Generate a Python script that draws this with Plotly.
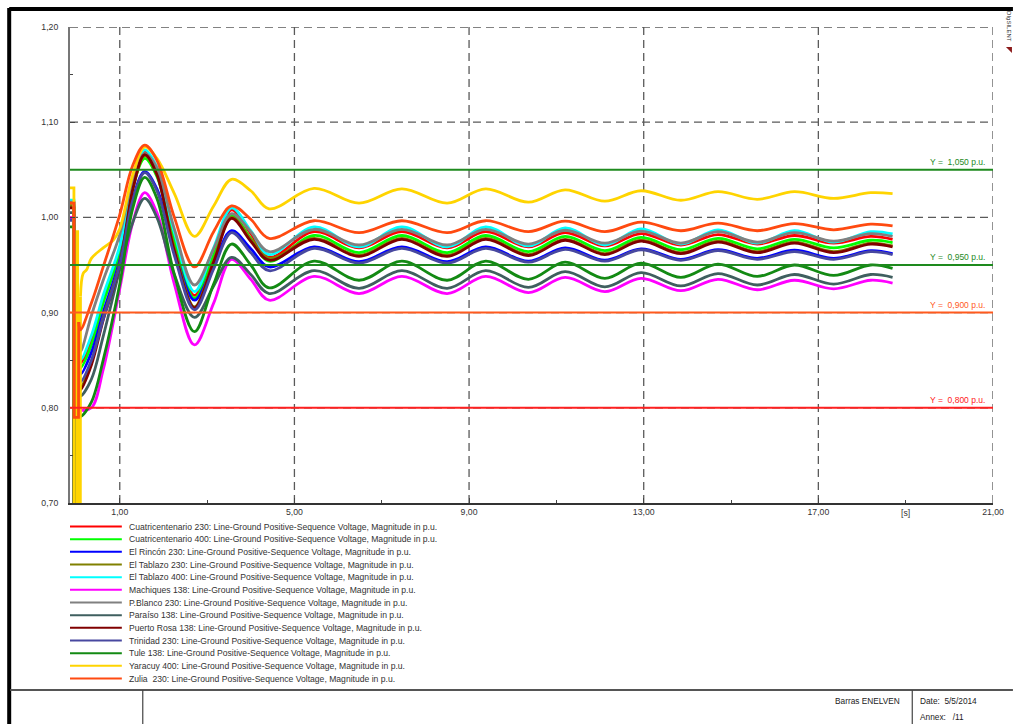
import plotly.graph_objects as go

# ---------------------------------------------------------------- data
SERIES_NAMES = [
    "Cuatricentenario 230", "Cuatricentenario 400", "El Rincón 230",
    "El Tablazo 230", "El Tablazo 400", "Machiques 138", "P.Blanco 230",
    "Paraíso 138", "Puerto Rosa 138", "Trinidad 230", "Tule 138",
    "Yaracuy 400", "Zulia  230",
]
SERIES_COLORS = [
    "#FF0000", "#00FF00", "#0000FF", "#808000", "#00FFFF", "#FF00FF",
    "#808080", "#3F5F5F", "#800000", "#4848A0", "#138A13", "#FFD400",
    "#FF4A10",
]
QUANTITY = ": Line-Ground Positive-Sequence Voltage, Magnitude in p.u."

# pre-fault / fault / first post-fault sample (s)
T_FAULT = [-0.14, -0.05, -0.045, 0.055, 0.06]
# post-fault samples (s)
T_POST = [0.06, 0.10, 0.35, 0.62, 1.0, 1.3, 1.57, 1.85, 2.25, 2.71, 3.15,
          3.56, 4.0, 4.42, 5.45, 6.48, 7.46, 8.5, 9.38, 10.36, 11.2, 12.11,
          12.94, 13.85, 14.7, 15.6, 16.45, 17.35, 18.2, 18.7]

CUATRI_230_FAULT = [1.015, 1.015, 0.60, 0.60, 0.860]
CUATRI_230_POST = [0.860, 0.847, 0.872, 0.915, 0.967, 1.038, 1.069, 1.050,
                   0.980, 0.918, 0.965, 1.008, 0.983, 0.958,
                   0.985, 0.968, 0.985, 0.968, 0.985, 0.969, 0.984, 0.970,
                   0.983, 0.971, 0.982, 0.972, 0.981, 0.973, 0.980, 0.977]

CUATRI_400_FAULT = [1.012, 1.012, 0.60, 0.60, 0.855]
CUATRI_400_POST = [0.855, 0.842, 0.866, 0.910, 0.962, 1.032, 1.062, 1.043,
                   0.975, 0.915, 0.960, 1.002, 0.978, 0.954,
                   0.981, 0.963, 0.981, 0.963, 0.981, 0.964, 0.980, 0.965,
                   0.979, 0.966, 0.978, 0.967, 0.977, 0.968, 0.976, 0.9735]

RINCON_230_FAULT = [0.998, 0.998, 0.60, 0.60, 0.850]
RINCON_230_POST = [0.850, 0.835, 0.858, 0.900, 0.955, 1.020, 1.048, 1.030,
                   0.966, 0.913, 0.951, 0.986, 0.967, 0.948,
                   0.969, 0.9535, 0.969, 0.9535, 0.969, 0.954, 0.968, 0.955,
                   0.967, 0.956, 0.966, 0.957, 0.9655, 0.957, 0.965, 0.962]

TABLAZO_230_FAULT = [1.012, 1.012, 0.60, 0.60, 0.835]
TABLAZO_230_POST = [0.835, 0.822, 0.848, 0.895, 0.952, 1.030, 1.065, 1.045,
                    0.968, 0.906, 0.955, 1.000, 0.977, 0.957,
                    0.978, 0.960, 0.978, 0.960, 0.978, 0.961, 0.977, 0.962,
                    0.976, 0.963, 0.975, 0.964, 0.974, 0.964, 0.973, 0.970]

TABLAZO_400_FAULT = [1.018, 1.018, 0.60, 0.60, 0.863]
TABLAZO_400_POST = [0.863, 0.850, 0.876, 0.918, 0.970, 1.041, 1.071, 1.053,
                    0.984, 0.922, 0.968, 1.010, 0.986, 0.961,
                    0.990, 0.969, 0.990, 0.969, 0.990, 0.970, 0.989, 0.971,
                    0.988, 0.972, 0.987, 0.973, 0.986, 0.974, 0.985, 0.9826]

MACHIQUES_138_FAULT = [1.000, 1.000, 0.60, 0.60, 0.810]
MACHIQUES_138_POST = [0.810, 0.798, 0.800, 0.840, 0.925, 0.995, 1.026, 1.005,
                      0.930, 0.866, 0.910, 0.956, 0.935, 0.913,
                      0.938, 0.920, 0.938, 0.920, 0.938, 0.921, 0.937, 0.922,
                      0.936, 0.923, 0.935, 0.924, 0.934, 0.925, 0.934, 0.931]

PBLANCO_230_FAULT = [1.016, 1.016, 0.60, 0.60, 0.872]
PBLANCO_230_POST = [0.872, 0.859, 0.897, 0.934, 0.982, 1.040, 1.067, 1.052,
                    0.988, 0.929, 0.967, 1.004, 0.985, 0.964,
                    0.9875, 0.971, 0.9875, 0.971, 0.9875, 0.972, 0.9865, 0.973,
                    0.9855, 0.973, 0.985, 0.974, 0.984, 0.975, 0.983, 0.980]

PARAISO_138_FAULT = [1.005, 1.005, 0.60, 0.60, 0.825]
PARAISO_138_POST = [0.825, 0.8125, 0.830, 0.875, 0.945, 0.995, 1.020, 1.000,
                    0.940, 0.895, 0.928, 0.958, 0.940, 0.920,
                    0.944, 0.9255, 0.944, 0.9255, 0.944, 0.9265, 0.943, 0.927,
                    0.942, 0.928, 0.941, 0.929, 0.940, 0.930, 0.940, 0.937]

PROSA_138_FAULT = [1.010, 1.010, 0.60, 0.60, 0.832]
PROSA_138_POST = [0.832, 0.819, 0.845, 0.892, 0.950, 1.030, 1.066, 1.045,
                  0.965, 0.905, 0.953, 0.999, 0.975, 0.955,
                  0.977, 0.959, 0.977, 0.959, 0.977, 0.960, 0.976, 0.961,
                  0.975, 0.962, 0.974, 0.963, 0.973, 0.963, 0.972, 0.969]

TRINIDAD_230_FAULT = [0.997, 0.997, 0.60, 0.60, 0.840]
TRINIDAD_230_POST = [0.840, 0.8275, 0.850, 0.893, 0.950, 1.018, 1.047, 1.028,
                     0.960, 0.903, 0.946, 0.984, 0.963, 0.944,
                     0.9675, 0.952, 0.9675, 0.952, 0.9675, 0.953, 0.9665, 0.954,
                     0.966, 0.955, 0.965, 0.956, 0.964, 0.956, 0.964, 0.961]

TULE_138_FAULT = [0.990, 0.990, 0.60, 0.60, 0.800]
TULE_138_POST = [0.800, 0.791, 0.806, 0.850, 0.930, 1.010, 1.042, 1.020,
                 0.940, 0.880, 0.930, 0.972, 0.950, 0.926,
                 0.954, 0.934, 0.954, 0.934, 0.954, 0.935, 0.953, 0.936,
                 0.952, 0.937, 0.951, 0.938, 0.950, 0.939, 0.950, 0.9465]

ZULIA_230_FAULT = [1.015, 1.015, 0.790, 0.790, 0.890]
ZULIA_230_POST = [0.890, 0.882, 0.910, 0.948, 1.003, 1.055, 1.076, 1.060,
                  1.000, 0.948, 0.985, 1.012, 0.998, 0.978,
                  0.9965, 0.984, 0.9965, 0.984, 0.9965, 0.985, 0.996, 0.985,
                  0.995, 0.986, 0.994, 0.986, 0.9935, 0.987, 0.993, 0.991]

# Yaracuy has its own switching sequence during the fault
T_YARACUY_FAULT = [-0.14, -0.05, -0.045, 0.02, 0.025, 0.035, 0.04, 0.095, 0.10]
YARACUY_400_FAULT = [1.031, 1.031, 0.55, 0.55, 0.985, 0.985, 0.55, 0.55, 0.917]
T_YARACUY_POST = [0.10, 0.16, 0.24, 0.35, 0.62, 0.85, 1.0, 1.3, 1.57, 1.85,
                  2.25, 2.71, 3.15, 3.56, 4.0, 4.42, 5.45, 6.48, 7.46, 8.5,
                  9.38, 10.36, 11.2, 12.11, 12.94, 13.85, 14.7, 15.6, 16.45,
                  17.35, 18.2, 18.7]
YARACUY_400_POST = [0.917, 0.941, 0.945, 0.957, 0.968, 0.976, 0.988, 1.045,
                    1.074, 1.062, 1.025, 0.980, 1.012, 1.040, 1.028, 1.009,
                    1.0305, 1.015, 1.030, 1.015, 1.030, 1.016, 1.029, 1.017,
                    1.028, 1.018, 1.027, 1.019, 1.027, 1.020, 1.026, 1.025]

FAULT_SERIES = [CUATRI_230_FAULT, CUATRI_400_FAULT, RINCON_230_FAULT,
                TABLAZO_230_FAULT, TABLAZO_400_FAULT, MACHIQUES_138_FAULT,
                PBLANCO_230_FAULT, PARAISO_138_FAULT, PROSA_138_FAULT,
                TRINIDAD_230_FAULT, TULE_138_FAULT, YARACUY_400_FAULT,
                ZULIA_230_FAULT]
POST_SERIES = [CUATRI_230_POST, CUATRI_400_POST, RINCON_230_POST,
               TABLAZO_230_POST, TABLAZO_400_POST, MACHIQUES_138_POST,
               PBLANCO_230_POST, PARAISO_138_POST, PROSA_138_POST,
               TRINIDAD_230_POST, TULE_138_POST, YARACUY_400_POST,
               ZULIA_230_POST]

# voltage limit lines
LIMIT_VALUES = [1.05, 0.95, 0.90, 0.80]
LIMIT_LABELS = ["Y =  1,050 p.u.", "Y =  0,950 p.u.", "Y =  0,900 p.u.", "Y =  0,800 p.u."]
LIMIT_COLORS = ["#1E8A1E", "#1E8A1E", "#FF5A1E", "#FF2020"]

X_TICKS = [1, 5, 9, 13, 17, 21]
X_LABELS = ["1,00", "5,00", "9,00", "13,00", "17,00", "21,00"]
X_MINOR = [3, 7, 11, 15, 19]
Y_TICKS = [0.7, 0.8, 0.9, 1.0, 1.1, 1.2]
Y_LABELS = ["0,70", "0,80", "0,90", "1,00", "1,10", "1,20"]
Y_MINOR = [0.75, 0.85, 0.95, 1.05, 1.15]
X_RANGE = [-0.14, 21]
Y_RANGE = [0.70, 1.20]

FONT = "Liberation Sans, Arial, sans-serif"
W, H = 1016, 724
PL, PR, PT, PB = 70, 996, 27, 503   # plot area in pixels


def px(x):
    return (x - PL) / (PR - PL)


def py(y):
    return (PB - y) / (PB - PT)


fig = go.Figure()

for i, name in enumerate(SERIES_NAMES):
    if name.startswith("Yaracuy"):
        tf, tp = T_YARACUY_FAULT, T_YARACUY_POST
    else:
        tf, tp = T_FAULT, T_POST
    fig.add_trace(go.Scatter(x=tf, y=FAULT_SERIES[i], mode="lines",
                             line=dict(color=SERIES_COLORS[i], width=2.8),
                             showlegend=False, hoverinfo="skip"))
    fig.add_trace(go.Scatter(x=tp, y=POST_SERIES[i], mode="lines",
                             line=dict(color=SERIES_COLORS[i], width=2.8,
                                       shape="spline", smoothing=1.0),
                             name=name, showlegend=False))

shapes = []
# dashed grid
for gx in X_TICKS:
    shapes.append(dict(type="line", xref="x", yref="paper", x0=gx, x1=gx,
                       y0=0, y1=1, layer="below",
                       line=dict(color="#5A5A5A", width=1.3, dash="8px,5px")))
for gy in Y_TICKS[1:]:
    shapes.append(dict(type="line", xref="paper", yref="y", x0=0, x1=1,
                       y0=gy, y1=gy, layer="below",
                       line=dict(color="#5A5A5A", width=1.3, dash="8px,5px")))
# limit lines
for val, col in zip(LIMIT_VALUES, LIMIT_COLORS):
    shapes.append(dict(type="line", xref="paper", yref="y", x0=0, x1=1,
                       y0=val, y1=val, layer="above",
                       line=dict(color=col, width=2)))

annotations = []
for val, lab, col in zip(LIMIT_VALUES, LIMIT_LABELS, LIMIT_COLORS):
    annotations.append(dict(x=20.86, y=val, xref="x", yref="y", text=lab,
                            showarrow=False, xanchor="right", yanchor="bottom",
                            yshift=1, font=dict(family=FONT, size=8.5, color=col)))

annotations.append(dict(x=19, y=py(513), xref="x", yref="paper",
                        text="[s]", showarrow=False, xanchor="center",
                        yanchor="middle",
                        font=dict(family=FONT, size=8.7, color="#333")))

# legend drawn below the plot
LEG_Y0, LEG_DY = 526.5, 12.67
for i, name in enumerate(SERIES_NAMES):
    yy = py(LEG_Y0 + i * LEG_DY)
    shapes.append(dict(type="line", xref="paper", yref="paper",
                       x0=px(70), x1=px(122), y0=yy, y1=yy,
                       line=dict(color=SERIES_COLORS[i], width=2)))
    annotations.append(dict(x=px(127), y=yy, xref="paper", yref="paper",
                            text=name + QUANTITY, showarrow=False,
                            xanchor="left", yanchor="middle",
                            font=dict(family=FONT, size=8.6, color="#333")))

# page frame and title block
frame = [
    (9, 9, 1016, 9, "#000", 4),
    (9, 8, 9, 724, "#000", 4),
    (10, 690, 1016, 690, "#555", 2),
    (143, 690, 143, 724, "#444", 1.2),
    (915, 690, 915, 724, "#444", 1.2),
]
for x0, y0, x1, y1, col, wd in frame:
    shapes.append(dict(type="line", xref="paper", yref="paper",
                       x0=px(x0), x1=px(x1), y0=py(y0), y1=py(y1),
                       line=dict(color=col, width=wd)))

annotations += [
    dict(x=px(905), y=py(701), xref="paper", yref="paper", text="Barras ENELVEN",
         showarrow=False, xanchor="right", yanchor="middle",
         font=dict(family=FONT, size=8.3, color="#222")),
    dict(x=px(921), y=py(701), xref="paper", yref="paper", text="Date:  5/5/2014",
         showarrow=False, xanchor="left", yanchor="middle",
         font=dict(family=FONT, size=8.3, color="#222")),
    dict(x=px(921), y=py(717), xref="paper", yref="paper", text="Annex:   /11",
         showarrow=False, xanchor="left", yanchor="middle",
         font=dict(family=FONT, size=8.3, color="#222")),
    dict(x=px(1012), y=py(27), xref="paper", yref="paper", text="DIgSILENT",
         showarrow=False, textangle=90, xanchor="center", yanchor="middle",
         font=dict(family=FONT, size=6, color="#333")),
]
shapes.append(dict(type="path", xref="paper", yref="paper",
                   path="M {} {} L {} {} L {} {} Z".format(
                       px(1009), py(47), px(1015), py(47), px(1015), py(53)),
                   fillcolor="#8B1A1A", line=dict(width=0)))

fig.update_layout(
    width=W, height=H, autosize=False,
    margin=dict(l=PL, r=W - PR, t=PT, b=H - PB, pad=0),
    paper_bgcolor="white", plot_bgcolor="white",
    showlegend=False, shapes=shapes, annotations=annotations,
    font=dict(family=FONT, size=8.7, color="#333"),
)
fig.update_xaxes(range=X_RANGE, tickvals=X_TICKS, ticktext=X_LABELS,
                 ticks="inside", ticklen=5, tickwidth=1, tickcolor="#444",
                 minor=dict(tickvals=X_MINOR, ticks="inside", ticklen=3,
                            tickcolor="#444", showgrid=False),
                 showgrid=False, zeroline=False, showline=True,
                 linecolor="#333", linewidth=2,
                 tickfont=dict(family=FONT, size=8.7, color="#333"))
fig.update_yaxes(range=Y_RANGE, tickvals=Y_TICKS, ticktext=Y_LABELS,
                 ticks="inside", ticklen=5, tickwidth=1, tickcolor="#444",
                 minor=dict(tickvals=Y_MINOR, ticks="inside", ticklen=3,
                            tickcolor="#444", showgrid=False),
                 showgrid=False, zeroline=False, showline=True,
                 linecolor="#777", linewidth=2, ticklabelstandoff=8,
                 tickfont=dict(family=FONT, size=8.7, color="#333"))

fig.write_html("out.html", config={"displayModeBar": False})
